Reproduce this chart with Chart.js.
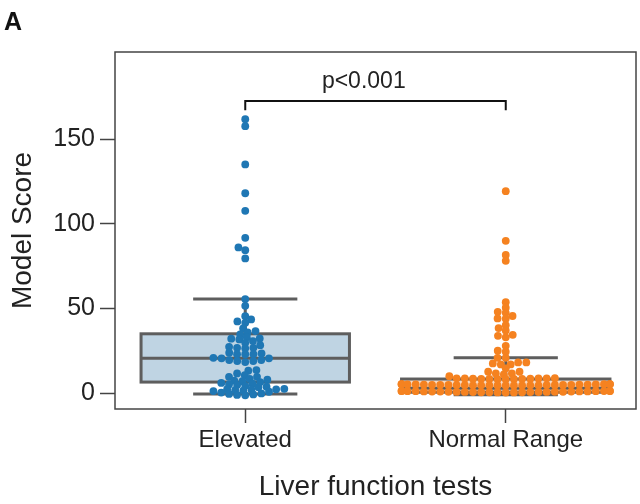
<!DOCTYPE html>
<html>
<head>
<meta charset="utf-8">
<script src="https://cdn.jsdelivr.net/npm/chart.js@4.4.1/dist/chart.umd.min.js"></script>
<style>
html,body{margin:0;padding:0;background:#ffffff;}
canvas{display:block;}
</style>
</head>
<body>
<canvas id="c" width="640" height="504"></canvas>
<script>
// ---------------- data ----------------
const categories = ['Elevated', 'Normal Range'];

const elevatedScores = [
  161.7, 157.6, 135.0, 118.0, 107.6, 91.7, 86.0, 84.4, 79.5,
  55.5, 51.5, 45.4, 43.5, 42.3, 41.5, 38.2, 36.6, 35.8, 34.6,
  32.9, 32.3, 32.1, 31.7, 30.7, 29.7,
  28.3, 27.3, 26.7, 26.7, 26.4,
  23.8, 23.4, 23.0, 23.0, 23.0,
  20.8, 20.5, 20.5, 19.5, 19.5, 18.9, 18.9, 18.3,
  13.6, 13.2, 11.6, 10.6, 9.6, 9.6,
  8.3, 7.9, 7.4, 7.0, 6.5, 6.0, 5.5, 5.1, 4.7, 4.3, 3.8, 3.5,
  2.5, 2.3, 2.2, 2.0, 1.8, 1.5, 1.2, 0.8, 0.3,
  -0.2, -0.5, -0.8, -1.1, -1.3
];

const normalScores = [
  119.2, 89.9, 81.6, 78.1,
  53.7, 50.4, 48.0, 47.4, 45.5, 44.1, 43.9, 40.1, 38.4, 37.0, 34.4, 33.8, 32.9,
  27.9, 25.0, 24.4, 20.8, 20.8, 18.1, 18.1, 17.5, 16.9, 16.9,
  14.6, 12.6, 12.6, 11.6, 11.6, 11.0, 10.0,
  8.8, 8.7, 8.7, 8.6, 8.6, 8.5, 8.5, 8.4, 8.4, 8.3, 8.3, 8.2, 8.2,
  5.3, 5.3, 5.2, 5.2, 5.2, 5.1, 5.1, 5.1, 5.0, 5.0, 5.0, 4.9, 4.9, 4.9, 4.8,
  4.8, 4.8, 4.7, 4.7, 4.7, 4.6, 4.6, 4.6, 4.6, 4.5, 4.5, 4.5, 4.5, 4.5,
  1.3, 1.3, 1.2, 1.2, 1.2, 1.1, 1.1, 1.1, 1.0, 1.0, 1.0, 0.9, 0.9, 0.9, 0.8,
  0.8, 0.8, 0.7, 0.7, 0.7, 0.6, 0.6, 0.6, 0.5, 0.5, 0.5, 0.4, 0.4, 0.3
];

// box statistics per category
const boxLow    = [-0.6, -1.0];
const boxQ1     = [6.5, 0.5];
const boxMedian = [20.5, 2.8];
const boxQ3     = [35.0, 8.3];
const boxHigh   = [55.5, 20.8];

const yTicks = [0, 50, 100, 150];
const pLabel = 'p<0.001';
const panelLabel = 'A';
const xTitle = 'Liver function tests';
const yTitle = 'Model Score';

// ---------------- styles ----------------
const FONT = '"Liberation Sans", Arial, Helvetica, sans-serif';
const pointColors = ['#1f77b4', '#f58220'];
const boxFills = ['#bfd4e3', '#f8dcc6'];
const boxLine = '#5e5e5e';
const frameColor = '#444444';
const textColor = '#222222';
const POINT_R = 3.9;
const BOX_HALF = 0.4;
const CAP_HALF = 0.2;
const Y_STRETCH = 1.6;   // anisotropy used by the swarm layout

const seriesValues = [elevatedScores, normalScores];

// ---------------- plugins ----------------
const boxPlugin = {
  id: 'boxes',
  beforeDatasetsDraw(chart) {
    const {ctx, scales: {x, y}} = chart;
    ctx.save();
    for (let i = 0; i < categories.length; i++) {
      const x0 = x.getPixelForValue(i - BOX_HALF);
      const x1 = x.getPixelForValue(i + BOX_HALF);
      const xc = x.getPixelForValue(i);
      const c0 = x.getPixelForValue(i - CAP_HALF);
      const c1 = x.getPixelForValue(i + CAP_HALF);
      const yq1 = y.getPixelForValue(boxQ1[i]);
      const yq3 = y.getPixelForValue(boxQ3[i]);
      const ym = y.getPixelForValue(boxMedian[i]);
      const ylo = y.getPixelForValue(boxLow[i]);
      const yhi = y.getPixelForValue(boxHigh[i]);
      ctx.lineWidth = 3;
      ctx.strokeStyle = boxLine;
      ctx.lineCap = 'butt';
      ctx.beginPath();
      ctx.moveTo(xc, yq3); ctx.lineTo(xc, yhi);
      ctx.moveTo(xc, yq1); ctx.lineTo(xc, ylo);
      ctx.moveTo(c0, yhi); ctx.lineTo(c1, yhi);
      ctx.moveTo(c0, ylo); ctx.lineTo(c1, ylo);
      ctx.stroke();
      ctx.fillStyle = boxFills[i];
      ctx.fillRect(x0, yq3, x1 - x0, yq1 - yq3);
      ctx.strokeRect(x0, yq3, x1 - x0, yq1 - yq3);
      ctx.beginPath();
      ctx.moveTo(x0, ym); ctx.lineTo(x1, ym);
      ctx.stroke();
    }
    ctx.restore();
  },
  afterDatasetsDraw(chart) {
    const {ctx, chartArea: a} = chart;
    ctx.save();
    ctx.strokeStyle = frameColor;
    ctx.lineWidth = 1.5;
    ctx.strokeRect(a.left, a.top, a.right - a.left, a.bottom - a.top);
    ctx.restore();
  },
  afterDraw(chart) {
    const {ctx, scales: {x, y}} = chart;
    ctx.save();
    const bx0 = x.getPixelForValue(0), bx1 = x.getPixelForValue(1);
    const byTop = y.getPixelForValue(172.5), byDrop = y.getPixelForValue(167);
    ctx.strokeStyle = '#111111';
    ctx.lineWidth = 2;
    ctx.beginPath();
    ctx.moveTo(bx0, byDrop); ctx.lineTo(bx0, byTop); ctx.lineTo(bx1, byTop); ctx.lineTo(bx1, byDrop);
    ctx.stroke();
    ctx.fillStyle = textColor;
    ctx.font = '23px ' + FONT;
    ctx.textAlign = 'center';
    ctx.textBaseline = 'alphabetic';
    ctx.fillText(pLabel, x.getPixelForValue(0.455), y.getPixelForValue(180));
    ctx.font = 'bold 25px ' + FONT;
    ctx.textAlign = 'left';
    ctx.fillStyle = '#111111';
    ctx.fillText(panelLabel, 4, 30);
    ctx.restore();
  }
};

// ---------------- chart ----------------
const datasets = seriesValues.map((vals, i) => ({
  label: categories[i],
  data: vals.map(v => ({x: i, y: v})),
  pointRadius: POINT_R,
  pointHoverRadius: POINT_R,
  pointBackgroundColor: pointColors[i],
  pointBorderWidth: 0,
  borderWidth: 0,
  showLine: false
}));

const chart = new Chart(document.getElementById('c'), {
  type: 'scatter',
  data: {datasets},
  options: {
    responsive: false,
    animation: false,
    events: [],
    layout: {padding: {top: 52, right: 4, left: 0, bottom: 0}},
    plugins: {legend: {display: false}, tooltip: {enabled: false}},
    scales: {
      x: {
        type: 'linear',
        min: -0.5,
        max: 1.5,
        afterFit(s) { s.height = 95; },
        afterBuildTicks(s) { s.ticks = categories.map((c, i) => ({value: i})); },
        ticks: {
          callback: (v) => categories[v],
          color: textColor,
          font: {family: FONT, size: 24},
          padding: 3,
          maxRotation: 0,
          autoSkip: false
        },
        grid: {drawOnChartArea: false, drawTicks: true, tickLength: 14, tickColor: frameColor, tickWidth: 1.5},
        border: {display: false},
        title: {
          display: true,
          text: xTitle,
          color: textColor,
          font: {family: FONT, size: 28, lineHeight: 1.0},
          padding: {top: 0, bottom: 2.5}
        }
      },
      y: {
        type: 'linear',
        min: -9.4,
        max: 201.4,
        afterFit(s) { s.width = 115; },
        afterBuildTicks(s) { s.ticks = yTicks.map(v => ({value: v})); },
        ticks: {
          color: textColor,
          font: {family: FONT, size: 25},
          padding: 5
        },
        grid: {drawOnChartArea: false, drawTicks: true, tickLength: 15, tickColor: frameColor, tickWidth: 1.5},
        border: {display: false},
        title: {
          display: true,
          text: yTitle,
          color: textColor,
          font: {family: FONT, size: 28},
          padding: {top: 6, bottom: 0}
        }
      }
    }
  },
  plugins: [boxPlugin]
});

// ---------------- swarm layout (computed through the chart's scales) ----------------
function swarmOffsets(values) {
  const xs = chart.scales.x, ys = chart.scales.y;
  const unit = xs.getPixelForValue(1) - xs.getPixelForValue(0);
  const limit = BOX_HALF * unit;
  const d = 2 * POINT_R;
  const pts = values.map((v, idx) => ({idx, v, py: ys.getPixelForValue(v) * Y_STRETCH, x: 0}));
  const order = pts.slice().sort((a, b) => a.v - b.v);
  const placed = [];
  for (const p of order) {
    const nbrs = placed.filter(q => Math.abs(q.py - p.py) < d);
    const cands = [0];
    let leftFirst = true;
    for (const q of nbrs) {
      const dy = q.py - p.py;
      const dx = Math.sqrt(d * d - dy * dy) * 1.05;
      if (leftFirst) cands.push(q.x - dx, q.x + dx); else cands.push(q.x + dx, q.x - dx);
      leftFirst = !leftFirst;
    }
    const sorted = cands.map((c, k) => ({c, k})).sort((a, b) => (Math.abs(a.c) - Math.abs(b.c)) || (a.k - b.k));
    let chosen = sorted[0].c;
    for (const {c} of sorted) {
      let ok = true;
      for (const q of nbrs) {
        const ddx = c - q.x, ddy = q.py - p.py;
        if (ddx * ddx + ddy * ddy < d * d - 1e-4) { ok = false; break; }
      }
      if (ok) { chosen = c; break; }
    }
    p.x = chosen;
    placed.push(p);
  }
  return pts.map(p => Math.max(-limit, Math.min(limit, p.x)) / unit);
}

seriesValues.forEach((vals, i) => {
  const offs = swarmOffsets(vals);
  chart.data.datasets[i].data = vals.map((v, j) => ({x: i + offs[j], y: v}));
});
chart.update('none');
</script>
</body>
</html>
